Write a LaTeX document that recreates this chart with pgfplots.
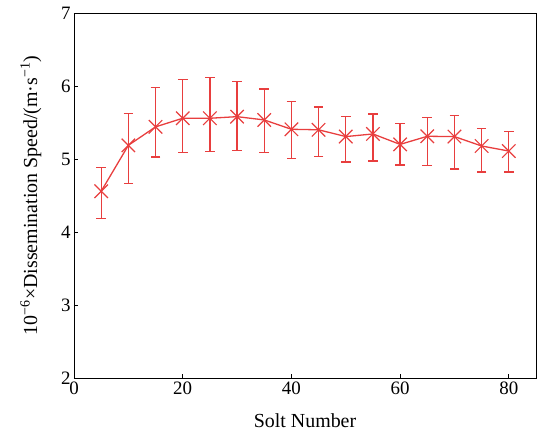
\documentclass[border=0pt]{standalone}
\usepackage{pgfplots}
\pgfplotsset{compat=1.18}
\usepackage{fontspec}
\setmainfont{Liberation Serif}
\definecolor{seriesred}{RGB}{232,62,62}

\begin{document}
\begin{tikzpicture}
\begin{axis}[
  scale only axis,
  width=462bp, height=365bp,
  xmin=0, xmax=85, ymin=2, ymax=7,
  xtick={0,20,40,60,80},
  ytick={2,3,4,5,6,7},
  tick align=inside,
  xtick pos=bottom, ytick pos=left,
  major tick length=4bp,
  axis line style={line width=0.9bp},
  tick style={line width=0.9bp, black},
  /pgf/number format/assume math mode=true,
  tick label style={font=\fontsize{19}{22}\selectfont},
  label style={font=\fontsize{20}{23}\selectfont},
  xlabel={Solt Number},
  ylabel={10\textsuperscript{−6}×Dissemination Speed/(m·s\textsuperscript{−1})},
  xlabel style={at={(axis description cs:0.5,-0.137)}, anchor=base},
  ylabel style={at={(axis description cs:-0.080,0.5)}, anchor=base},
]
\addplot[
  color=seriesred, line width=1.3bp,
  mark=x, mark size=9.5bp,
  mark options={line width=1.2bp},
  error bars/.cd,
    y dir=both, y explicit,
    error bar style={line width=1.3bp, seriesred},
    error mark options={rotate=90, mark size=4.8bp, line width=1.3bp, seriesred},
] table[x=x, y=y, y error plus=ep, y error minus=em] {
x   y      ep     em
5   4.558  0.330  0.371
10  5.187  0.436  0.523
15  5.440  0.540  0.414
20  5.558  0.527  0.471
25  5.558  0.562  0.458
30  5.580  0.480  0.460
35  5.535  0.422  0.445
40  5.407  0.383  0.399
45  5.400  0.314  0.364
50  5.307  0.279  0.349
55  5.343  0.275  0.372
60  5.200  0.290  0.284
65  5.311  0.257  0.403
70  5.307  0.293  0.445
75  5.178  0.239  0.358
80  5.109  0.271  0.289
};
\end{axis}
% fixed margins around the axis box
\path ([xshift=-74bp,yshift=-54bp]current axis.south west)
      ([xshift=1bp,yshift=13bp]current axis.north east);
\end{tikzpicture}
\end{document}
